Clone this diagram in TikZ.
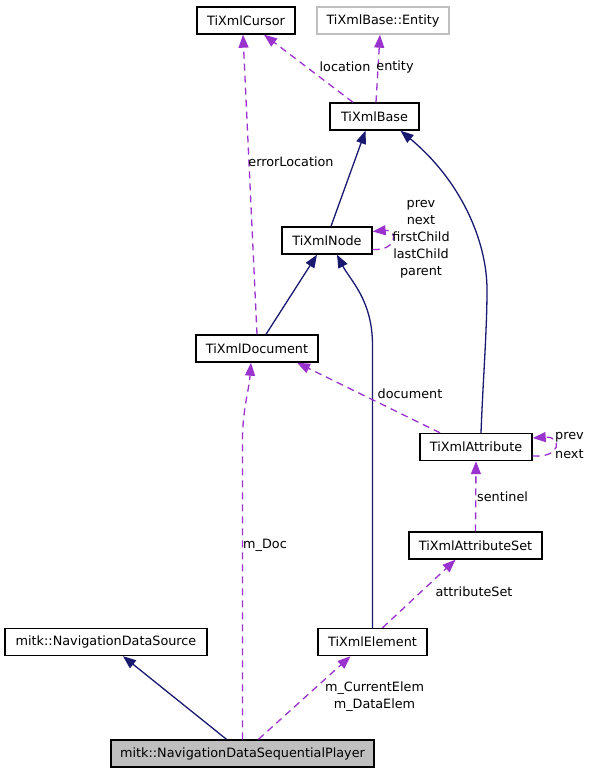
\documentclass[tikz,border=0pt]{standalone}
\usepackage{fontspec}
\setmainfont{DejaVu Sans}
\usetikzlibrary{arrows.meta}
\definecolor{navy}{HTML}{191970}
\definecolor{orchid}{HTML}{9A32CD}
\definecolor{graybox}{HTML}{BFBFBF}
\begin{document}
\begin{tikzpicture}[x=1pt,y=-1pt,
  every node/.style={font=\fontsize{12.8}{17}\selectfont},
  cls/.style={draw=black, line width=1.4pt, minimum height=27pt, inner sep=0pt, fill=white},
  inh/.style={draw=navy, line width=1.3pt, -{Triangle[length=13pt,width=10pt]}},
  use/.style={draw=orchid, line width=1.3pt, dash pattern=on 7pt off 5pt, -{Triangle[length=13pt,width=10pt]}},
  lbl/.style={inner sep=0pt, align=center}]
\useasboundingbox (0,0) rectangle (589,773);
% nodes
\node[cls, minimum width=98pt] (cursor) at (246,20.5) {TiXmlCursor};
\node[cls, draw=graybox, minimum width=132pt] (entity) at (383,20.5) {TiXmlBase::Entity};
\node[cls, minimum width=89pt] (base) at (374.5,116.5) {TiXmlBase};
\node[cls, minimum width=90pt] (node) at (327,240.5) {TiXmlNode};
\node[cls, minimum width=122pt] (doc) at (257,348.5) {TiXmlDocument};
\node[cls, minimum width=112pt] (attr) at (476,447) {TiXmlAttribute};
\node[cls, minimum width=133pt] (attrset) at (475.5,545.5) {TiXmlAttributeSet};
\node[cls, minimum width=109pt] (elem) at (372.5,642) {TiXmlElement};
\node[cls, minimum width=202pt] (src) at (106,642) {mitk::NavigationDataSource};
\node[cls, fill=graybox, minimum width=263pt] (player) at (242.5,753.5) {mitk::NavigationDataSequentialPlayer};
% edges
\draw[use] ([xshift=-21.5pt]base.north) -- ([xshift=18pt]cursor.south);
\node[lbl] (llocation) at (345,67) {location};
\draw[use] ([xshift=1.5pt]base.north) -- ([xshift=-3pt]entity.south);
\node[lbl] (lentity) at (395,67) {entity};
\draw[inh] ([xshift=4pt]node.north) -- ([xshift=-9pt]base.south);
\draw[inh] ([xshift=5pt]attr.north) .. controls (483,380) and (487,330) .. (487,290)
  .. controls (487,240) and (460,180) .. ([xshift=26pt]base.south);
\draw[use] ([yshift=-9pt]node.east) .. controls (398,251) and (398,229) .. ([yshift=9pt]node.east);
\node[lbl] (lnode) at (421,239) {prev\\next\\firstChild\\lastChild\\parent};
\draw[inh] ([xshift=9pt]doc.north) -- ([xshift=-10pt]node.south);
\draw[inh] (elem.north) -- (372.5,345) .. controls (372.5,300) and (350,280) .. ([xshift=10pt]node.south);
\draw[use] (doc.north) -- ([xshift=-3pt]cursor.south);
\node[lbl] (lerr) at (291,162) {errorLocation};
\draw[use] ([xshift=-36pt]attr.north) -- ([xshift=40pt]doc.south);
\node[lbl] (ldoc) at (410,394) {document};
\draw[use] ([yshift=-9pt]attr.east) .. controls (562,458) and (562,436) .. ([yshift=9pt]attr.east);
\node[lbl, anchor=west] (lprev) at (555,437) {prev};
\node[lbl, anchor=west] (lnext) at (555,454) {next};
\draw[use] (attrset.north) -- (attr.south);
\node[lbl, anchor=west] (lsent) at (477,497) {sentinel};
\draw[use] ([xshift=10pt]elem.north) -- ([xshift=-20pt]attrset.south);
\node[lbl] (lattrset) at (474,592) {attributeSet};
\draw[inh] ([xshift=-16pt]player.north) -- ([xshift=17pt]src.south);
\draw[use] (player.north) -- (242.5,440) .. controls (242.5,410) and (249,390) .. ([xshift=-6pt]doc.south);
\node[lbl] (lmdoc) at (265,545) {m\_Doc};
\draw[use] ([xshift=16pt]player.north) -- ([xshift=-22pt]elem.south);
\node[lbl] (lelem) at (374.5,696.5) {m\_CurrentElem\\m\_DataElem};
\end{tikzpicture}
\end{document}
